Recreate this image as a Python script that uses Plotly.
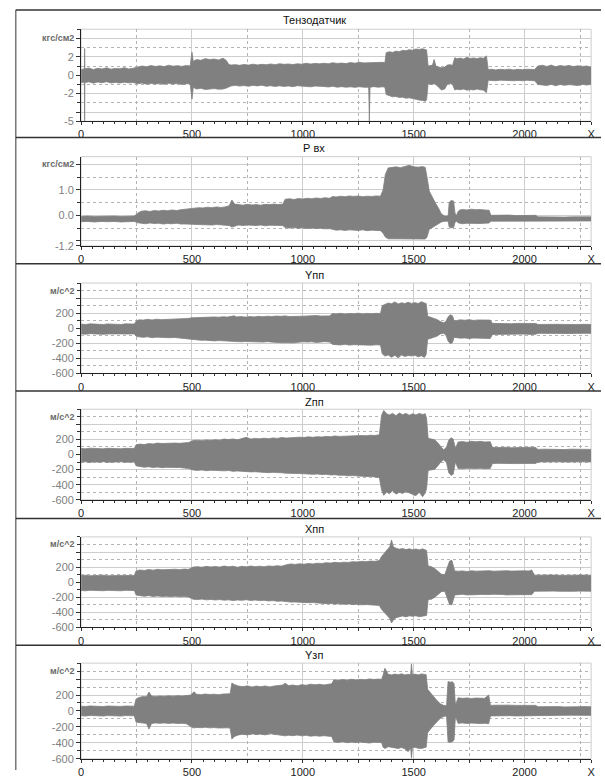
import plotly.graph_objects as go

W, H = 605, 778

# ---------------- tick labels / categories ----------------
X_TICKVALS = [0, 500, 1000, 1500, 2000, 2300]
X_TICKTEXT = ['0', '500', '1000', '1500', '2000', 'X']
X_MIDVALS = [250, 750, 1250, 1750, 2250]

TITLES = ['Тензодатчик', 'Р вх', 'Yпп', 'Zпп', 'Xпп', 'Yзп']
UNITS = ['кгс/см2', 'кгс/см2', 'м/с^2', 'м/с^2', 'м/с^2', 'м/с^2']

Y_RANGES = [[-5, 5], [-1.2, 2.3], [-600, 600], [-600, 600], [-600, 600], [-600, 600]]
Y_TICKVALS = [
    [-5, -4, -2, 0, 2, 4],
    [-1.2, -1, 0, 1, 2],
    [-600, -400, -200, 0, 200, 400],
    [-600, -400, -200, 0, 200, 400],
    [-600, -400, -200, 0, 200, 400],
    [-600, -400, -200, 0, 200, 400],
]
Y_TICKTEXT = [
    ['-5', '', '-2', '0', '2', ''],
    ['-1.2', '', '0.0', '1.0', ''],
    ['-600', '-400', '-200', '0', '200', ''],
    ['-600', '-400', '-200', '0', '200', ''],
    ['-600', '-400', '-200', '0', '200', ''],
    ['-600', '-400', '-200', '0', '200', ''],
]
Y_MINOR = [1, 0.5, 100, 100, 100, 100]
UNIT_AT = [4, 2.0, 500, 500, 500, 500]

# ---------------- signal envelopes ----------------
TENZO_X = [0, 15, 16, 17, 35, 55, 75, 95, 115, 135,
           155, 175, 195, 215, 235, 255, 275, 295, 315, 335,
           355, 375, 395, 415, 435, 455, 475, 492, 500, 506,
           520, 540, 560, 580, 600, 620, 640, 655, 665, 675,
           695, 715, 735, 755, 775, 795, 815, 835, 855, 875,
           895, 915, 935, 955, 975, 995, 1015, 1035, 1055, 1075,
           1095, 1115, 1135, 1155, 1175, 1195, 1215, 1235, 1255, 1275,
           1297, 1300, 1303, 1320, 1340, 1360, 1370, 1376, 1390, 1405,
           1420, 1435, 1450, 1465, 1480, 1495, 1510, 1525, 1540, 1552,
           1558, 1565, 1575, 1585, 1592, 1600, 1612, 1625, 1640, 1652,
           1665, 1675, 1685, 1695, 1710, 1725, 1740, 1755, 1770, 1785,
           1800, 1815, 1828, 1836, 1850, 1870, 1890, 1910, 1930, 1950,
           1970, 1990, 2010, 2030, 2045, 2060, 2080, 2100, 2120, 2140,
           2160, 2180, 2200, 2220, 2240, 2260, 2280, 2300]
TENZO_HI = [0.6, 0.7, 2.9, 0.7, 0.78, 0.62, 0.75, 0.68, 0.8, 0.66,
            0.74, 0.7, 0.82, 0.68, 0.76, 0.9, 1.0, 0.92, 1.05, 0.95,
            1.02, 0.94, 1.08, 0.98, 1.04, 0.96, 1.06, 1.0, 2.5, 1.5,
            1.7, 1.62, 1.8, 1.7, 1.76, 1.65, 1.85, 1.6, 1.2, 1.1,
            1.15, 1.08, 1.16, 1.1, 1.2, 1.12, 1.18, 1.14, 1.22, 1.15,
            1.25, 1.18, 1.22, 1.16, 1.24, 1.2, 1.3, 1.22, 1.28, 1.24,
            1.3, 1.24, 1.35, 1.28, 1.32, 1.26, 1.38, 1.3, 1.4, 1.34,
            1.35, 1.35, 1.35, 1.42, 1.36, 1.4, 1.35, 2.45, 2.55, 2.48,
            2.62, 2.55, 2.7, 2.65, 2.78, 2.72, 2.85, 2.8, 2.88, 2.82,
            2.75, 1.0, 1.08, 1.1, 1.7, 1.0, 0.9, 0.8, 0.88, 1.1,
            1.15, 1.05, 1.9, 1.78, 1.86, 1.75, 1.95, 1.82, 1.88, 1.8,
            1.9, 1.84, 2.1, 0.6, 0.65, 0.58, 0.64, 0.6, 0.66, 0.58,
            0.64, 0.6, 0.65, 0.6, 0.62, 1.0, 1.08, 0.95, 1.1, 0.92,
            1.05, 0.98, 1.06, 0.94, 1.02, 0.96, 1.0, 0.9]
TENZO_LO = [-0.8, -0.75, -4.95, -0.8, -0.72, -0.86, -0.74, -0.82, -0.7, -0.84,
            -0.78, -0.85, -0.76, -0.83, -0.8, -0.92, -0.85, -0.97, -0.88, -0.95,
            -0.9, -0.98, -0.88, -0.96, -0.9, -1.0, -0.92, -0.95, -2.6, -1.3,
            -1.5, -1.42, -1.55, -1.48, -1.45, -1.52, -1.5, -1.4, -1.25, -1.18,
            -1.1, -1.18, -1.12, -1.2, -1.1, -1.16, -1.08, -1.2, -1.14, -1.22,
            -1.15, -1.22, -1.16, -1.24, -1.14, -1.18, -1.2, -1.26, -1.18, -1.24,
            -1.22, -1.28, -1.2, -1.3, -1.24, -1.3, -1.26, -1.32, -1.25, -1.3,
            -1.3, -4.95, -1.3, -1.24, -1.3, -1.26, -1.3, -2.1, -2.25, -2.35,
            -2.3, -2.42, -2.38, -2.5, -2.45, -2.55, -2.6, -2.7, -2.75, -2.82,
            -2.7, -0.9, -0.98, -1.0, -0.92, -1.0, -1.3, -1.6, -1.5, -0.95,
            -0.9, -1.0, -1.6, -1.52, -1.58, -1.5, -1.62, -1.55, -1.6, -1.5,
            -1.58, -1.62, -1.9, -0.55, -0.56, -0.6, -0.54, -0.58, -0.55, -0.6,
            -0.56, -0.6, -0.55, -0.58, -0.6, -1.0, -1.05, -1.12, -0.98, -1.15,
            -1.0, -1.1, -1.02, -1.08, -1.12, -1.0, -1.06, -1.0]

PVX_X = [0, 30, 60, 90, 120, 150, 180, 210, 240, 255,
         270, 290, 310, 330, 350, 370, 390, 410, 430, 450,
         470, 490, 510, 530, 550, 570, 590, 610, 630, 650,
         668, 680, 692, 710, 730, 750, 770, 790, 810, 830,
         850, 870, 890, 910, 920, 940, 960, 980, 1000, 1020,
         1040, 1060, 1080, 1100, 1120, 1135, 1150, 1170, 1190, 1210,
         1230, 1250, 1270, 1290, 1310, 1330, 1350, 1362, 1372, 1385,
         1400, 1420, 1440, 1460, 1480, 1500, 1520, 1540, 1552, 1560,
         1570, 1580, 1590, 1600, 1612, 1625, 1640, 1655, 1660, 1668,
         1680, 1686, 1692, 1700, 1708, 1720, 1740, 1760, 1780, 1800,
         1820, 1840, 1848, 1870, 1900, 1930, 1960, 1990, 2020, 2050,
         2060, 2100, 2140, 2180, 2220, 2260, 2300]
PVX_HI = [-0.05, -0.03, -0.05, -0.04, -0.05, -0.03, -0.05, -0.04, -0.03, 0.08,
          0.16, 0.18, 0.15, 0.19, 0.17, 0.2, 0.18, 0.21, 0.19, 0.22,
          0.24, 0.26, 0.28, 0.3, 0.29, 0.32, 0.3, 0.33, 0.31, 0.33,
          0.38, 0.6, 0.44, 0.42, 0.4, 0.43, 0.41, 0.42, 0.4, 0.43,
          0.42, 0.44, 0.42, 0.44, 0.63, 0.65, 0.62, 0.66, 0.64, 0.67,
          0.65, 0.68, 0.66, 0.69, 0.67, 0.74, 0.72, 0.75, 0.73, 0.76,
          0.74, 0.76, 0.73, 0.75, 0.74, 0.76, 0.75, 1.0, 1.6, 1.86,
          1.88, 1.9, 1.87, 1.92, 1.96, 1.9, 1.89, 1.91, 1.88, 1.5,
          0.95, 0.78, 0.6, 0.45, 0.28, 0.05, -0.03, -0.03, 0.5, 0.58,
          0.56, 0.1, -0.03, 0.15, 0.21, 0.23, 0.21, 0.24, 0.22, 0.23,
          0.21, 0.2, 0.0, 0.01, 0.0, 0.01, -0.01, 0.0, 0.01, 0.0,
          -0.06, -0.07, -0.06, -0.07, -0.06, -0.07, -0.06]
PVX_LO = [-0.25, -0.24, -0.26, -0.24, -0.25, -0.24, -0.26, -0.25, -0.24, -0.29,
          -0.31, -0.33, -0.3, -0.32, -0.31, -0.34, -0.32, -0.33, -0.31, -0.34,
          -0.34, -0.35, -0.36, -0.35, -0.37, -0.36, -0.38, -0.36, -0.37, -0.38,
          -0.4, -0.46, -0.42, -0.38, -0.4, -0.38, -0.39, -0.4, -0.38, -0.41,
          -0.39, -0.4, -0.41, -0.4, -0.48, -0.5, -0.48, -0.51, -0.49, -0.52,
          -0.5, -0.52, -0.51, -0.53, -0.52, -0.56, -0.58, -0.57, -0.59, -0.57,
          -0.58, -0.59, -0.57, -0.6, -0.58, -0.59, -0.6, -0.7, -0.85, -0.92,
          -0.92, -0.93, -0.92, -0.94, -0.93, -0.92, -0.93, -0.92, -0.93, -0.85,
          -0.55, -0.5, -0.45, -0.4, -0.34, -0.26, -0.23, -0.23, -0.46, -0.49,
          -0.48, -0.28, -0.23, -0.29, -0.31, -0.33, -0.31, -0.32, -0.33, -0.32,
          -0.31, -0.3, -0.23, -0.23, -0.24, -0.23, -0.23, -0.24, -0.23, -0.23,
          -0.22, -0.23, -0.22, -0.23, -0.22, -0.23, -0.22]

YPP_X = [0, 20, 40, 60, 80, 100, 120, 140, 160, 180,
         200, 220, 240, 250, 262, 280, 300, 320, 340, 360,
         380, 400, 420, 440, 460, 480, 500, 520, 540, 560,
         580, 600, 620, 640, 660, 680, 690, 700, 720, 740,
         760, 780, 800, 820, 840, 860, 880, 900, 920, 940,
         960, 980, 1000, 1020, 1040, 1060, 1080, 1100, 1120, 1135,
         1150, 1170, 1190, 1210, 1230, 1250, 1270, 1290, 1310, 1330,
         1350, 1358, 1370, 1385, 1400, 1415, 1430, 1445, 1460, 1475,
         1490, 1505, 1520, 1535, 1548, 1556, 1563, 1575, 1590, 1605,
         1620, 1635, 1645, 1655, 1665, 1675, 1682, 1690, 1710, 1730,
         1750, 1770, 1790, 1810, 1830, 1845, 1855, 1880, 1910, 1940,
         1970, 2000, 2030, 2050, 2060, 2090, 2120, 2150, 2180, 2210,
         2240, 2270, 2300]
YPP_HI = [55, 50, 58, 52, 56, 49, 57, 53, 55, 50,
          58, 54, 55, 100, 112, 108, 118, 110, 120, 114,
          117, 112, 122, 118, 125, 130, 138, 142, 136, 148,
          144, 150, 146, 152, 148, 155, 165, 150, 155, 148,
          156, 150, 158, 152, 160, 155, 162, 158, 164, 156,
          162, 158, 160, 165, 160, 168, 162, 158, 164, 195,
          190, 198, 188, 196, 192, 200, 190, 197, 192, 198,
          195, 300, 320, 335, 325, 350, 322, 338, 328, 345,
          330, 340, 328, 352, 335, 330, 160, 150, 135, 115,
          88, 72, 90, 150, 178, 165, 100, 100, 112, 106,
          114, 104, 110, 106, 112, 108, 65, 62, 66, 60,
          64, 61, 65, 63, 50, 53, 49, 52, 50, 54,
          50, 52, 50]
YPP_LO = [-75, -80, -72, -78, -74, -81, -76, -73, -79, -75,
          -77, -72, -75, -110, -116, -120, -114, -125, -118, -124,
          -120, -126, -122, -130, -135, -142, -150, -155, -160, -158,
          -165, -168, -164, -172, -170, -174, -178, -172, -180, -176,
          -178, -182, -176, -184, -178, -186, -188, -192, -196, -198,
          -194, -186, -180, -184, -180, -188, -182, -178, -184, -215,
          -218, -222, -214, -224, -218, -220, -226, -218, -225, -220,
          -222, -340, -370, -355, -385, -360, -392, -355, -375, -362,
          -368, -358, -380, -365, -388, -350, -145, -135, -120, -105,
          -75, -68, -90, -170, -205, -190, -120, -125, -132, -128,
          -136, -130, -134, -138, -132, -136, -82, -80, -83, -79,
          -81, -78, -82, -80, -68, -70, -67, -71, -68, -70,
          -68, -70, -68]

ZPP_X = [0, 20, 40, 60, 80, 100, 120, 140, 160, 180,
         200, 220, 240, 248, 265, 285, 305, 325, 345, 365,
         385, 405, 425, 445, 465, 485, 505, 525, 545, 565,
         585, 605, 625, 645, 665, 685, 705, 725, 745, 765,
         785, 805, 825, 845, 865, 885, 905, 925, 945, 965,
         985, 1005, 1025, 1045, 1065, 1085, 1105, 1125, 1145, 1165,
         1185, 1205, 1225, 1245, 1265, 1285, 1305, 1325, 1345, 1355,
         1365, 1378, 1390, 1405, 1420, 1435, 1450, 1465, 1480, 1495,
         1510, 1525, 1540, 1552, 1558, 1565, 1580, 1595, 1610, 1622,
         1635, 1648, 1658, 1668, 1678, 1688, 1700, 1720, 1740, 1760,
         1780, 1800, 1820, 1845, 1855, 1880, 1910, 1940, 1970, 2000,
         2030, 2050, 2060, 2090, 2120, 2150, 2180, 2210, 2240, 2270,
         2300]
ZPP_HI = [80, 76, 84, 78, 82, 75, 83, 79, 81, 76,
          82, 78, 80, 130, 138, 132, 145, 140, 152, 146,
          150, 144, 152, 148, 156, 160, 185, 190, 184, 194,
          188, 196, 190, 205, 198, 206, 195, 212, 228, 205,
          214, 208, 216, 210, 220, 214, 226, 218, 224, 220,
          230, 226, 234, 228, 236, 232, 240, 236, 246, 240,
          244, 240, 250, 246, 252, 248, 256, 252, 262, 520,
          585, 540, 525, 545, 515, 550, 528, 545, 520, 540,
          525, 545, 530, 540, 480, 215, 205, 195, 150, 110,
          60, 100, 190, 222, 205, 80, 165, 172, 162, 176,
          168, 175, 166, 170, 95, 92, 96, 90, 94, 92,
          96, 93, 68, 71, 67, 70, 66, 71, 68, 70,
          68]
ZPP_LO = [-100, -96, -104, -97, -102, -95, -103, -98, -100, -96,
          -102, -98, -100, -150, -160, -168, -162, -172, -166, -174,
          -170, -168, -176, -172, -180, -186, -205, -210, -204, -214,
          -208, -214, -210, -216, -212, -222, -218, -224, -225, -230,
          -228, -234, -230, -240, -236, -244, -242, -248, -246, -250,
          -252, -258, -254, -262, -258, -266, -262, -270, -268, -276,
          -274, -282, -278, -286, -284, -292, -290, -298, -305, -470,
          -540, -495, -520, -480, -525, -500, -515, -490, -510, -520,
          -545, -500, -560, -510, -450, -210, -205, -195, -145, -100,
          -70, -110, -240, -275, -262, -100, -185, -190, -182, -188,
          -186, -182, -188, -185, -120, -117, -121, -116, -120, -118,
          -121, -118, -98, -95, -99, -96, -98, -95, -99, -97,
          -98]

XPP_X = [0, 20, 40, 60, 80, 100, 120, 140, 160, 180,
         200, 220, 240, 248, 265, 285, 305, 325, 345, 365,
         385, 405, 425, 445, 465, 485, 505, 525, 545, 565,
         585, 605, 625, 645, 665, 685, 705, 725, 745, 765,
         785, 805, 825, 845, 865, 885, 905, 925, 945, 965,
         985, 1005, 1025, 1045, 1065, 1085, 1105, 1125, 1145, 1165,
         1185, 1205, 1225, 1245, 1265, 1285, 1305, 1325, 1345, 1355,
         1368, 1380, 1392, 1400, 1408, 1420, 1435, 1450, 1465, 1480,
         1495, 1510, 1525, 1540, 1552, 1558, 1565, 1580, 1595, 1610,
         1625, 1640, 1652, 1662, 1672, 1685, 1700, 1720, 1740, 1760,
         1780, 1800, 1820, 1840, 1860, 1880, 1900, 1920, 1940, 1960,
         1980, 2000, 2020, 2032, 2045, 2070, 2100, 2130, 2160, 2190,
         2220, 2250, 2280, 2300]
XPP_HI = [88, 92, 85, 90, 87, 93, 86, 91, 88, 90,
          86, 91, 88, 150, 162, 156, 168, 160, 170, 164,
          168, 162, 172, 166, 174, 170, 200, 206, 198, 210,
          202, 208, 200, 214, 204, 212, 198, 210, 204, 214,
          206, 212, 204, 216, 210, 218, 212, 230, 242, 236,
          244, 238, 248, 242, 252, 248, 258, 254, 264, 258,
          266, 262, 272, 268, 276, 272, 280, 276, 288, 340,
          390, 430, 470, 560, 470, 450, 438, 446, 432, 442,
          430, 440, 428, 442, 430, 420, 215, 205, 180, 140,
          105, 100, 200, 280, 290, 150, 145, 150, 142, 152,
          146, 150, 144, 152, 146, 150, 145, 152, 147, 150,
          146, 151, 148, 162, 93, 96, 92, 95, 91, 96,
          92, 95, 92, 93]
XPP_LO = [-110, -114, -107, -112, -109, -113, -108, -112, -110, -114,
          -108, -112, -110, -170, -180, -186, -178, -188, -182, -190,
          -186, -192, -186, -194, -190, -196, -225, -230, -224, -234,
          -228, -236, -230, -238, -234, -242, -236, -240, -232, -242,
          -236, -244, -240, -248, -244, -252, -250, -258, -264, -262,
          -268, -266, -272, -270, -278, -276, -284, -282, -290, -286,
          -292, -288, -296, -292, -300, -296, -302, -298, -308, -360,
          -400, -440, -480, -540, -500, -470, -455, -448, -460, -446,
          -452, -444, -458, -450, -446, -440, -230, -225, -200, -160,
          -125, -120, -220, -295, -300, -170, -165, -160, -168, -162,
          -166, -162, -168, -164, -160, -166, -163, -168, -162, -166,
          -165, -162, -167, -165, -120, -117, -121, -118, -120, -116,
          -121, -118, -120, -120]

YZP_X = [0, 20, 40, 60, 80, 100, 120, 140, 160, 180,
         200, 220, 240, 248, 262, 280, 295, 306, 318, 335,
         355, 375, 395, 415, 435, 455, 475, 495, 503, 510,
         520, 540, 560, 580, 600, 620, 640, 660, 672, 680,
         692, 710, 730, 750, 770, 790, 810, 830, 850, 870,
         890, 910, 920, 935, 955, 975, 995, 1015, 1035, 1055,
         1075, 1095, 1115, 1130, 1140, 1160, 1180, 1200, 1220, 1240,
         1260, 1280, 1300, 1320, 1340, 1355, 1362, 1370, 1385, 1400,
         1415, 1430, 1445, 1460, 1475, 1486, 1490, 1494, 1505, 1520,
         1535, 1548, 1556, 1563, 1575, 1590, 1605, 1620, 1635, 1648,
         1655, 1665, 1675, 1682, 1688, 1700, 1720, 1740, 1760, 1780,
         1800, 1820, 1838, 1846, 1870, 1900, 1930, 1960, 1990, 2020,
         2050, 2060, 2090, 2120, 2150, 2180, 2210, 2240, 2270, 2300]
YZP_HI = [60, 56, 63, 58, 61, 55, 62, 58, 61, 57,
          62, 58, 60, 150, 170, 182, 178, 238, 188, 182,
          188, 184, 190, 186, 192, 187, 191, 200, 225, 240,
          210, 204, 212, 206, 210, 204, 212, 208, 215, 350,
          330, 312, 305, 315, 300, 312, 304, 314, 302, 312,
          318, 326, 348, 318, 325, 315, 330, 322, 336, 328,
          335, 326, 334, 340, 390, 384, 395, 386, 398, 388,
          396, 390, 402, 394, 400, 395, 450, 535, 460, 452,
          462, 455, 466, 452, 460, 455, 590, 455, 462, 452,
          465, 455, 455, 270, 230, 175, 130, 90, 70, 66,
          370, 360, 365, 340, 70, 165, 158, 164, 156, 162,
          160, 158, 200, 70, 72, 68, 73, 70, 72, 69,
          70, 53, 56, 52, 55, 51, 56, 53, 55, 53]
YZP_LO = [-60, -64, -57, -62, -59, -63, -58, -62, -60, -64,
          -58, -62, -60, -140, -148, -152, -156, -227, -158, -150,
          -155, -150, -156, -152, -158, -154, -160, -200, -210, -212,
          -206, -210, -204, -212, -208, -214, -210, -212, -215, -352,
          -320, -300, -292, -300, -286, -296, -290, -300, -284, -294,
          -302, -306, -312, -304, -310, -302, -312, -306, -316, -310,
          -316, -310, -318, -320, -388, -395, -385, -398, -390, -396,
          -390, -398, -402, -392, -398, -395, -455, -470, -448, -455,
          -462, -470, -458, -475, -510, -465, -590, -460, -455, -468,
          -470, -458, -455, -270, -225, -180, -135, -92, -68, -62,
          -390, -393, -385, -360, -65, -155, -150, -158, -152, -157,
          -158, -154, -160, -62, -60, -63, -59, -62, -60, -63,
          -62, -55, -53, -56, -54, -56, -53, -55, -54, -55]

PANELS = [
    (TENZO_X, TENZO_HI, TENZO_LO),
    (PVX_X, PVX_HI, PVX_LO),
    (YPP_X, YPP_HI, YPP_LO),
    (ZPP_X, ZPP_HI, ZPP_LO),
    (XPP_X, XPP_HI, XPP_LO),
    (YZP_X, YZP_HI, YZP_LO),
]
for _xs, _hi, _lo in PANELS:
    assert len(_xs) == len(_hi) == len(_lo), (len(_xs), len(_hi), len(_lo))

# ---------------- geometry (pixels) ----------------
PLOT_LEFT, PLOT_RIGHT = 79, 595
PLOT_TOP = [29.5, 158.3, 286, 413.5, 542.5, 670]
PLOT_BOT = [122.5, 248.5, 377.3, 505, 634, 766.7]
TITLE_Y = [20.5, 150, 278.3, 405.7, 534, 661.7]
SEPS = [10, 139, 266.5, 395, 524, 652]
BOX_LEFT = 13

FONT = 'Liberation Sans, Arial, sans-serif'
SIG = '#808080'
GRID = '#cdcdcd'
DOT = '#b4b4b4'


def px(x):
    return x / W


def py(y):
    return 1 - y / H


fig = go.Figure()
layout = dict(
    width=W, height=H, margin=dict(l=0, r=0, t=0, b=0),
    paper_bgcolor='white', plot_bgcolor='white', showlegend=False,
    font=dict(family=FONT, size=11, color='#222'),
)
annotations = []
shapes = []

for i, (xs, hi, lo) in enumerate(PANELS):
    n = i + 1
    xa = 'x' if n == 1 else f'x{n}'
    ya = 'y' if n == 1 else f'y{n}'
    xo = f'x{n + 6}'
    fig.add_trace(go.Scatter(x=xs, y=lo, mode='lines', line=dict(color=SIG, width=0.8),
                             xaxis=xa, yaxis=ya, hoverinfo='skip'))
    fig.add_trace(go.Scatter(x=xs, y=hi, mode='lines', line=dict(color=SIG, width=0.8),
                             fill='tonexty', fillcolor=SIG, xaxis=xa, yaxis=ya, hoverinfo='skip'))
    fig.add_trace(go.Scatter(x=[], y=[], xaxis=xo, yaxis=ya, hoverinfo='skip'))

    ydom = [py(PLOT_BOT[i]), py(PLOT_TOP[i])]
    xdom = [px(PLOT_LEFT), px(PLOT_RIGHT)]
    layout[f'xaxis{n}'] = dict(
        domain=xdom, anchor=ya, range=[0, 2300],
        tickmode='array', tickvals=X_TICKVALS, ticktext=X_TICKTEXT,
        ticks='outside', ticklen=3, tickcolor='#333', tickwidth=1,
        tickfont=dict(family=FONT, size=11, color='#222'),
        showgrid=True, gridcolor=GRID, gridwidth=1,
        showline=True, linecolor='#222', linewidth=1, zeroline=False,
        minor=dict(dtick=50, tick0=0, ticks='outside', ticklen=2, tickcolor='#333', showgrid=False),
        fixedrange=True,
    )
    layout[f'xaxis{n + 6}'] = dict(
        domain=xdom, anchor=ya, overlaying=xa, range=[0, 2300],
        tickmode='array', tickvals=X_MIDVALS, showticklabels=False,
        ticks='outside', ticklen=3, tickcolor='#333',
        showgrid=True, gridcolor=DOT, griddash='dot', gridwidth=1,
        showline=False, zeroline=False, fixedrange=True,
    )
    layout[f'yaxis{n}'] = dict(
        domain=ydom, anchor=xa, range=Y_RANGES[i],
        tickmode='array', tickvals=Y_TICKVALS[i], ticktext=Y_TICKTEXT[i],
        ticks='outside', ticklen=4, tickcolor='#333', tickwidth=1,
        tickfont=dict(family=FONT, size=11, color='#808080'),
        showgrid=True, gridcolor=GRID, gridwidth=1,
        showline=True, linecolor='#222', linewidth=1, zeroline=False,
        minor=dict(dtick=Y_MINOR[i], tick0=0, ticks='outside', ticklen=3, tickcolor='#333',
                   showgrid=True, gridcolor=DOT, griddash='dot', gridwidth=1),
        fixedrange=True,
    )
    shapes.append(dict(type='rect', xref=f'{xa} domain', yref=f'{ya} domain', x0=0, x1=1, y0=0, y1=1,
                       line=dict(color=GRID, width=1), layer='below'))
    annotations.append(dict(text='<b>' + UNITS[i] + '</b>', xref='paper', yref=ya, x=px(PLOT_LEFT - 5),
                            y=UNIT_AT[i], xanchor='right', yanchor='middle', showarrow=False,
                            font=dict(family=FONT, size=9, color='#6a6a6a')))
    annotations.append(dict(text=TITLES[i], xref='paper', yref='paper', x=px(315), y=py(TITLE_Y[i]),
                            xanchor='center', yanchor='middle', showarrow=False,
                            font=dict(family=FONT, size=11, color='#111')))
    shapes.append(dict(type='line', xref='paper', yref='paper', x0=px(BOX_LEFT), x1=1.0,
                       y0=py(SEPS[i]), y1=py(SEPS[i]), line=dict(color='#333', width=1.5)))

shapes.append(dict(type='line', xref='paper', yref='paper', x0=px(BOX_LEFT), x1=px(BOX_LEFT),
                   y0=py(SEPS[0]), y1=0, line=dict(color='#333', width=1)))

layout['annotations'] = annotations
layout['shapes'] = shapes
fig.update_layout(**layout)
fig.write_html('out.html', config={'displayModeBar': False, 'staticPlot': True})
